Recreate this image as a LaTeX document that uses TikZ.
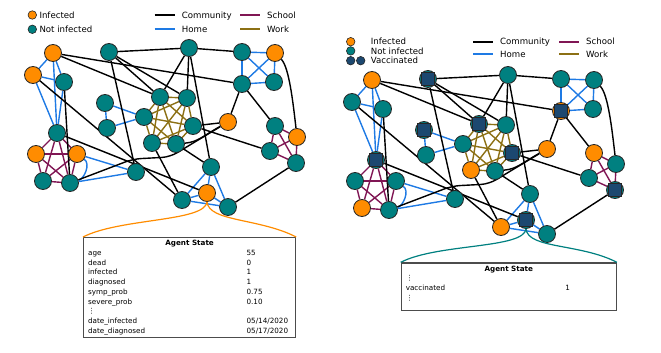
\documentclass[tikz,border=0pt]{standalone}
\usepackage{fontspec}
\setmainfont{DejaVu Sans}
\usepackage{tikz}
\usetikzlibrary{positioning, backgrounds, calc}
\definecolor{agentorange}{RGB}{255,140,0}
\definecolor{agentteal}{RGB}{0,128,128}
\definecolor{vaccnavy}{RGB}{28,72,112}
\definecolor{homeblue}{RGB}{30,122,228}
\definecolor{schoolpurple}{RGB}{128,22,84}
\definecolor{workolive}{RGB}{140,112,20}

\begin{document}
\begin{tikzpicture}[
    x=1pt, y=-1pt,
    % -------------------------------------------------
    % Agents
    % -------------------------------------------------
    agent/.style={
        circle,
        draw=black!85,
        line width=0.8pt,
        minimum size=17pt,
        inner sep=0pt
    },
    healthy/.style={fill=agentteal},
    sick/.style={fill=agentorange},
    vaccbox/.style={
        rectangle,
        draw=black!85,
        fill=vaccnavy,
        line width=0.7pt,
        minimum size=12.5pt,
        inner sep=0pt
    },
    vhealthy/.style={healthy, label={[vaccbox]center:}},
    vsick/.style={sick, label={[vaccbox]center:}},
    % -------------------------------------------------
    % Contacts
    % -------------------------------------------------
    community/.style={draw=black, line width=1.4pt},
    home/.style={draw=homeblue, line width=1.4pt},
    school/.style={draw=schoolpurple, line width=1.4pt},
    work/.style={draw=workolive, line width=1.4pt},
    % -------------------------------------------------
    % Legend and agent state
    % -------------------------------------------------
    legdot/.style={
        circle,
        draw=black!85,
        line width=0.6pt,
        minimum size=8.5pt,
        inner sep=0pt
    },
    legline/.style={line width=2pt},
    legtext/.style={
        anchor=west,
        inner sep=0pt,
        text height=6.3pt,
        text depth=0pt,
        font=\fontsize{8.6}{10}\selectfont
    },
    statebox/.style={
        rectangle,
        draw=black!70,
        line width=1.2pt,
        fill=white,
        inner xsep=4.5pt,
        inner ysep=1.5pt,
        font=\fontsize{7.2}{9.7}\selectfont
    },
    bracket/.style={line width=1.2pt}
]

\useasboundingbox (0,0) rectangle (661,353);

% =====================================================
% Agents (left: infection, right: vaccination)
% =====================================================

\foreach \n/\x/\y/\s/\t in {
    a1/53/53/sick/sick, a2/33/75/sick/healthy, a3/64/82/healthy/healthy,
    b1/109/52/healthy/vhealthy, c1/189/48/healthy/healthy,
    d1/242/52/healthy/healthy, d2/275/53/sick/healthy,
    d3/242/84/healthy/vsick, d4/274/82/healthy/healthy,
    e1/105/103/healthy/vhealthy, e2/107/128/healthy/healthy,
    w1/144/117/healthy/healthy, w2/160/97/healthy/vhealthy,
    w3/187/98/healthy/healthy, w4/193/126/healthy/vhealthy,
    w5/152/143/healthy/sick, w6/176/144/healthy/healthy,
    f1/228/122/sick/sick,
    g1/275/126/healthy/sick, g2/297/137/sick/healthy,
    g3/270/151/healthy/healthy, g4/296/163/healthy/vhealthy,
    h1/57/133/healthy/vhealthy, h2/36/154/sick/healthy,
    h3/77/154/sick/healthy, h4/43/181/healthy/sick,
    h5/70/183/healthy/healthy, i1/136/172/healthy/healthy,
    j1/211/167/healthy/healthy, j2/207/193/sick/vhealthy,
    j3/182/200/healthy/sick, j4/228/207/healthy/healthy}{
    \node[agent, \s] (L\n) at (\x,\y) {};
    \node[agent, \t] (R\n) at (\x+319,\y+27) {};
}

% =====================================================
% Contacts
% =====================================================

\begin{scope}[on background layer]
\foreach \p in {L,R}{
    % home
    \foreach \u/\v in {a1/a2, a1/a3, a2/a3, a1/h1, a2/h1, a3/h1,
        e1/e2, e1/w1, e2/w1,
        d1/d2, d1/d3, d1/d4, d2/d3, d2/d4, d3/d4,
        j1/j2, j1/j3, j1/j4, j2/j3, j2/j4, j3/j4,
        h3/i1, h5/i1}
        \draw[home] (\p\u) -- (\p\v);
    \draw[home] (\p h3) .. controls +(14,10) and +(14,-4) .. (\p h5);
    % school
    \foreach \i in {1,...,5}
        \foreach \j in {1,...,5}
            {\ifnum\i<\j \draw[school] (\p h\i) -- (\p h\j); \fi}
    \foreach \i in {1,...,4}
        \foreach \j in {1,...,4}
            {\ifnum\i<\j \draw[school] (\p g\i) -- (\p g\j); \fi}
    % work
    \foreach \i in {1,...,6}
        \foreach \j in {1,...,6}
            {\ifnum\i<\j \draw[work] (\p w\i) -- (\p w\j); \fi}
    % community
    \foreach \u/\v in {b1/c1, c1/d1, a1/w2, a1/d3, b1/w2, b1/w3, b1/i1,
        c1/w2, c1/w3, c1/j1, d3/f1, d3/g1, g4/j4, w4/g3, w4/f1,
        a2/j3, h1/j2, a3/h5, w5/j3, w6/j1}
        \draw[community] (\p\u) -- (\p\v);
    \draw[community] (\p d2) .. controls +(14,14) and +(-4,-35) .. (\p g2);
    \draw[community] (\p w6) .. controls +(22,-2) and +(-25,14) .. (\p f1);
    \draw[community, rounded corners=8]
        (\p h5) -- ($(\p i1)+(-3,-13)$) -- ($(\p w6)+(-6,13)$) -- (\p f1);
}
\end{scope}

% =====================================================
% Legends
% =====================================================

\node[legdot, fill=agentorange] (LdotInf) at (32.3,15) {};
\node[legtext] (LtxtInf) at (39.3,15) {Infected};
\node[legdot, fill=agentteal] (LdotNot) at (32.3,29.3) {};
\node[legtext] (LtxtNot) at (39.3,29.3) {Not infected};

\node[legdot, fill=agentorange] (RdotInf) at (350.7,41.7) {};
\node[legtext] (RtxtInf) at (370.7,41.7) {Infected};
\node[legdot, fill=agentteal] (RdotNot) at (350.7,50.9) {};
\node[legtext] (RtxtNot) at (370.7,50.9) {Not infected};
\node[legdot, fill=vaccnavy] (RdotVac) at (350.7,60.7) {};
\node[legdot, fill=vaccnavy] (RdotVacB) at (360.7,60.7) {};
\node[legtext] (RtxtVac) at (370.7,60.7) {Vaccinated};

\foreach \nm/\st/\x/\y/\txt in {
    Lcomm/community/181.7/15/Community, Lhome/home/181.7/29.3/Home,
    Lschool/school/267/15/School, Lwork/work/267/29.3/Work,
    Rcomm/community/500/41.7/Community, Rhome/home/500/54.3/Home,
    Rschool/school/586/41.7/School, Rwork/work/586/54.3/Work}{
    \node[legtext] (\nm) at (\x,\y) {\txt};
    \draw[\st, legline] ([xshift=-27pt]\nm.west) -- ([xshift=-7pt]\nm.west);
}

% =====================================================
% Agent state
% =====================================================

\node[statebox, anchor=north west] (Lstate) at (83,237) {%
    \begin{tabular}{@{}p{146.5pt}p{44.5pt}@{}}
        \multicolumn{2}{@{}c@{}}{\bfseries Agent State}\\
        age & 55\\
        dead & 0\\
        infected & 1\\
        diagnosed & 1\\
        symp\_prob & 0.75\\
        severe\_prob & 0.10\\
        ⋮ & \\
        date\_infected & 05/14/2020\\
        date\_diagnosed & 05/17/2020
    \end{tabular}};

\node[statebox, anchor=north west] (Rstate) at (400.7,262.3) {%
    \begin{tabular}{@{}p{147.5pt}p{46.5pt}@{}}
        \multicolumn{2}{@{}c@{}}{\bfseries Agent State}\\
        ⋮ & \\
        vaccinated & 1\\
        ⋮ & \\[6pt]
    \end{tabular}};

\draw[bracket, agentorange]
    (Lj2.south) .. controls +(-2,20) and +(37,-19) .. (Lstate.north west);
\draw[bracket, agentorange]
    (Lj2.south) .. controls +(2,20) and +(-37,-19) .. (Lstate.north east);
\draw[bracket, agentteal]
    (Rj2.south) .. controls +(-2,20) and +(37,-19) .. (Rstate.north west);
\draw[bracket, agentteal]
    (Rj2.south) .. controls +(2,20) and +(-37,-19) .. (Rstate.north east);

\end{tikzpicture}
\end{document}
